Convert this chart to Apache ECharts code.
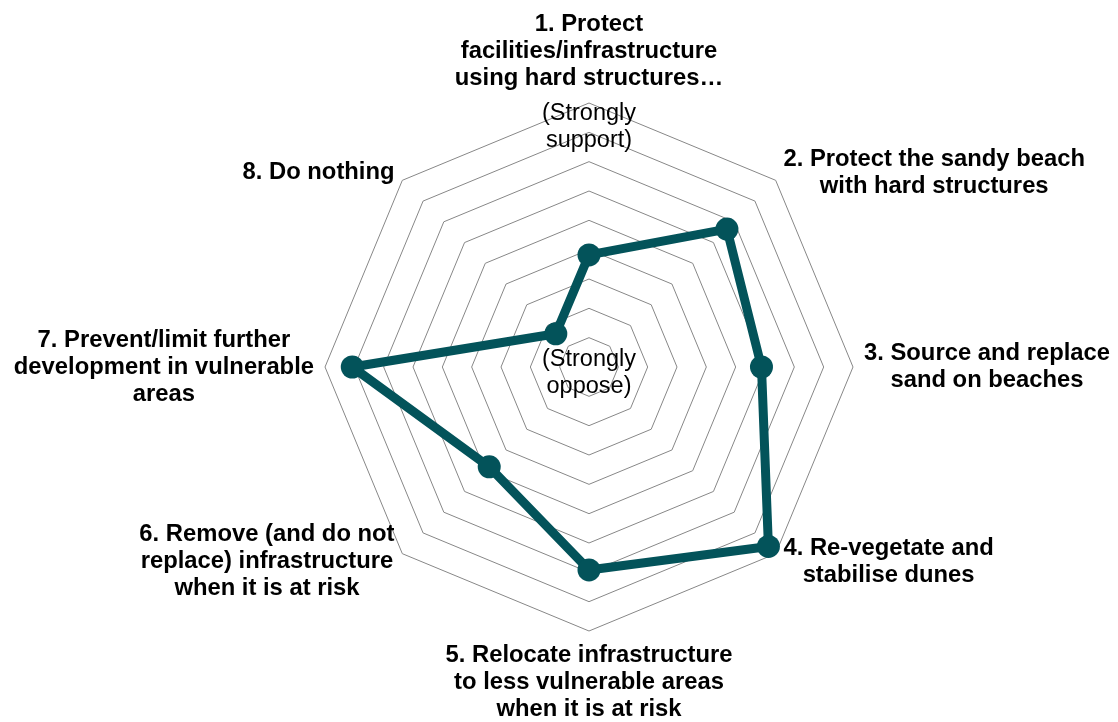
<!DOCTYPE html>
<html>
<head>
<meta charset="utf-8">
<script src="https://cdn.jsdelivr.net/npm/echarts@6/dist/echarts.min.js"></script>
<style>
  html, body { margin: 0; padding: 0; background: #fff; }
  #chart { width: 1118px; height: 722px; }
</style>
</head>
<body>
<div id="chart"></div>
<script>
// indicator names, clockwise from the top
const OPTIONS = [
  '1. Protect\nfacilities/infrastructure\nusing hard structures…',
  '2. Protect the sandy beach\nwith hard structures',
  '3. Source and replace\nsand on beaches',
  '4. Re-vegetate and\nstabilise dunes',
  '5. Relocate infrastructure\nto less vulnerable areas\nwhen it is at risk',
  '6. Remove (and do not\nreplace) infrastructure\nwhen it is at risk',
  '7. Prevent/limit further\ndevelopment in vulnerable\nareas',
  '8. Do nothing'
]
// scores (0 = strongly oppose, 9 = strongly support)
const SCORES = [3.82, 6.65, 5.88, 8.65, 6.92, 4.81, 8.07, 1.6]
const SCALE_MIN = 0
const SCALE_MAX = 9

const FONT = "'Liberation Sans', Arial, sans-serif"
const TEAL = '#03535A'

// echarts lays radar axes out counter-clockwise, so flip the order
let order = [0, 7, 6, 5, 4, 3, 2, 1]

let chart = echarts.init(document.getElementById('chart'))

chart.setOption({
  animation: false,
  radar: {
    center: [589, 367],
    radius: 264,
    startAngle: 90,
    shape: 'polygon',
    splitNumber: 9,
    nameGap: 11,
    indicator: order.map(i => ({ name: OPTIONS[i], min: SCALE_MIN, max: SCALE_MAX })),
    axisName: {
      formatter: (name) => '{c|' + name + '}',
      rich: {
        c: {
          align: 'center',
          color: '#000',
          fontFamily: FONT,
          fontWeight: 'bold',
          fontSize: 23.8,
          lineHeight: 27
        }
      }
    },
    splitLine: { lineStyle: { color: '#878787', width: 1 } },
    splitArea: { show: false },
    axisLine: { show: false },
    axisTick: { show: false },
    axisLabel: { show: false }
  },
  graphic: [
    {
      type: 'text', x: 589, y: 127, z: 10,
      style: {
        text: '(Strongly\nsupport)', align: 'center', verticalAlign: 'middle',
        fontFamily: FONT, fontSize: 23.5, lineHeight: 27, fill: '#000'
      }
    },
    {
      type: 'text', x: 589, y: 373, z: 10,
      style: {
        text: '(Strongly\noppose)', align: 'center', verticalAlign: 'middle',
        fontFamily: FONT, fontSize: 23.5, lineHeight: 27, fill: '#000'
      }
    }
  ],
  series: [
    {
      type: 'radar',
      symbol: 'circle',
      symbolSize: 23,
      lineStyle: { color: TEAL, width: 9 },
      itemStyle: { color: TEAL },
      data: [{ value: order.map(i => SCORES[i]) }]
    }
  ]
})
</script>
</body>
</html>
